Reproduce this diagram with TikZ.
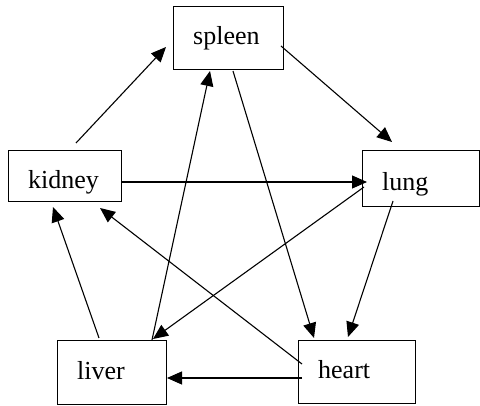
\documentclass[tikz,border=0pt]{standalone}
\usepackage{fontspec}
\setmainfont{Liberation Serif}
\usetikzlibrary{arrows.meta,calc}
\tikzset{
  organ/.style={draw, line width=1.4pt, anchor=north west, align=left,
                inner xsep=19.5pt, inner ysep=0pt,
                text height=18pt, text depth=5pt,
                font=\fontsize{26}{30}\selectfont},
  link/.style={line width=1.1pt, -{Triangle[length=15pt,width=13pt]}}
}
\begin{document}
\begin{tikzpicture}[x=1pt,y=-1pt]

  \useasboundingbox (0,0) rectangle (480,406);

  \node [organ, text width=71pt, minimum height=63pt] (spleen) at (173,6) {spleen};
  \node [organ, text width=74pt, minimum height=51pt,
         text height=31pt, text depth=6pt] (kidney) at (8,150) {kidney};
  \node [organ, text width=78pt, minimum height=56pt,
         text height=30pt, text depth=6pt] (lung) at (362,150) {lung};
  \node [organ, text width=70pt, minimum height=64pt] (liver) at (57,340) {liver};
  \node [organ, text width=78pt, minimum height=63pt] (heart) at (298,340) {heart};

  \draw [link] ($(kidney.north west)+(68,-7)$) -- ($(spleen.north west)+(-7,41)$);
  \draw [link] ($(spleen.north west)+(108,40)$) -- ($(lung.north west)+(30,-8)$);
  \draw [link] ($(spleen.north west)+(60,65)$) -- ($(heart.north west)+(16,-2)$);
  \draw [link] ($(liver.north west)+(95,0)$) -- ($(spleen.north west)+(37,65)$);
  \draw [link] ($(kidney.north west)+(114,32)$) -- ($(lung.north west)+(5,32)$);
  \draw [link] ($(lung.north west)+(2,37)$) -- ($(liver.north west)+(96,-1)$);
  \draw [link] ($(lung.north west)+(31,51)$) -- ($(heart.north west)+(50,-3)$);
  \draw [link] ($(heart.north west)+(4,24)$) -- ($(kidney.north west)+(92,58)$);
  \draw [link] ($(heart.north west)+(4,38)$) -- ($(liver.north west)+(110,38)$);
  \draw [link] ($(liver.north west)+(42,-2)$) -- ($(kidney.north west)+(45,57)$);

\end{tikzpicture}
\end{document}
